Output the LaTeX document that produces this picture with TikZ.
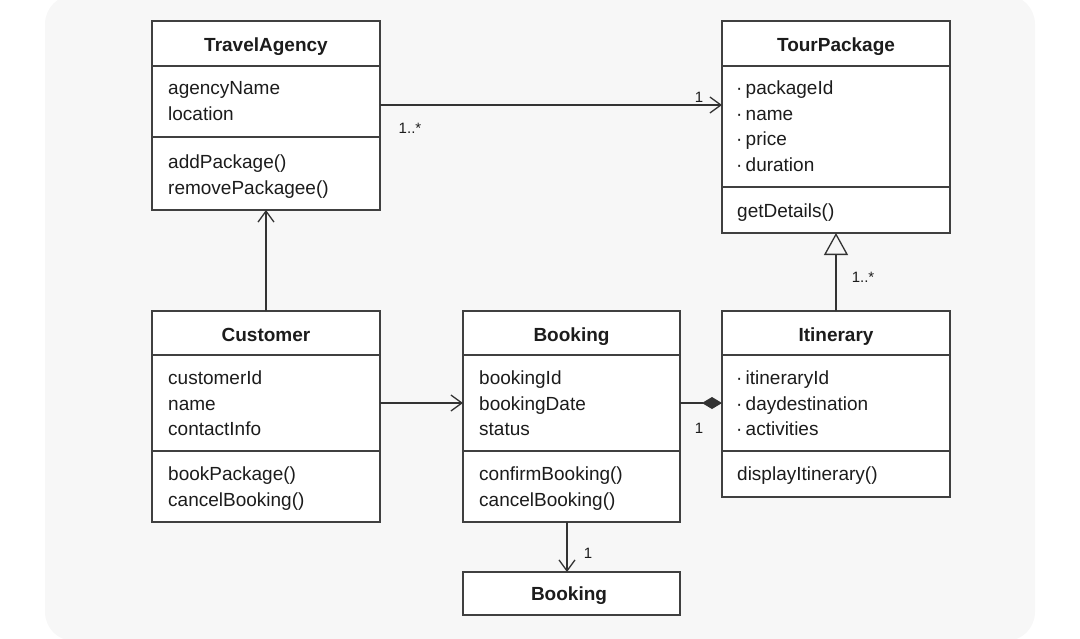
\documentclass[tikz,border=0pt]{standalone}
\usepackage{fontspec}
\setmainfont{Liberation Sans}
\usetikzlibrary{arrows.meta}
\definecolor{bgcol}{HTML}{F7F7F7}
\definecolor{boxline}{HTML}{404040}
\definecolor{txt}{HTML}{1C1C1C}
\definecolor{conncol}{HTML}{333333}
\begin{document}
\begin{tikzpicture}[x=1pt,y=-1pt,
  classbox/.style={draw=boxline, line width=1.8pt, fill=white, anchor=north west,
    inner sep=0pt, outer sep=0pt},
  divider/.style={draw=boxline, line width=1.8pt},
  title/.style={font=\fontsize{19}{23}\selectfont\bfseries, text=txt, anchor=base, inner sep=0pt},
  attr/.style={font=\fontsize{19}{23}\selectfont, text=txt, anchor=base west, inner sep=0pt},
  mult/.style={font=\fontsize{15}{18}\selectfont, text=txt, anchor=base, inner sep=0pt},
  conn/.style={draw=conncol, line width=1.3pt},
  openarrow/.style={-{Straight Barb[length=11pt,width=16pt,line width=1.3pt]}},
  genarrow/.style={-{Triangle[open,length=22pt,width=24pt,line width=1.3pt]}},
  comparrow/.style={-{Diamond[length=20pt,width=12pt]}}
]
\useasboundingbox (0,0) rectangle (1080,638);
\fill[bgcol, rounded corners=29pt] (45,-5) rectangle (1035,641);

% helper coordinates
\coordinate (r1) at (0,105);
\coordinate (r3) at (0,403);
\coordinate (c6) at (567,0);

% ---------- TravelAgency ----------
\node[classbox, minimum width=228pt, minimum height=189pt] (ta) at (152,21) {};
\draw[divider] (ta.west |- 0,66) -- (ta.east |- 0,66);
\draw[divider] (ta.west |- 0,137) -- (ta.east |- 0,137);
\node[title] (tat) at (266,51) {TravelAgency};
\node[attr] (ta1) at (168,94) {agencyName};
\node[attr] (ta2) at (168,120) {location};
\node[attr] (ta3) at (168,168) {addPackage()};
\node[attr] (ta4) at (168,194) {removePackagee()};

% ---------- TourPackage ----------
\node[classbox, minimum width=228pt, minimum height=212pt] (tp) at (722,21) {};
\draw[divider] (tp.west |- 0,66) -- (tp.east |- 0,66);
\draw[divider] (tp.west |- 0,187) -- (tp.east |- 0,187);
\node[title] (tpt) at (836,51) {TourPackage};
\node[attr] (tp1) at (736,94) {·\,packageId};
\node[attr] (tp2) at (736,120) {·\,name};
\node[attr] (tp3) at (736,145) {·\,price};
\node[attr] (tp4) at (736,171) {·\,duration};
\node[attr] (tp5) at (737,217) {getDetails()};

% ---------- Customer ----------
\node[classbox, minimum width=228pt, minimum height=211pt] (cu) at (152,311) {};
\draw[divider] (cu.west |- 0,355) -- (cu.east |- 0,355);
\draw[divider] (cu.west |- 0,451) -- (cu.east |- 0,451);
\node[title] (cut) at (266,341) {Customer};
\node[attr] (cu1) at (168,384) {customerId};
\node[attr] (cu2) at (168,410) {name};
\node[attr] (cu3) at (168,435) {contactInfo};
\node[attr] (cu4) at (168,480) {bookPackage()};
\node[attr] (cu5) at (168,506) {cancelBooking()};

% ---------- Booking ----------
\node[classbox, minimum width=217pt, minimum height=211pt] (bk) at (463,311) {};
\draw[divider] (bk.west |- 0,355) -- (bk.east |- 0,355);
\draw[divider] (bk.west |- 0,451) -- (bk.east |- 0,451);
\node[title] (bkt) at (571.5,341) {Booking};
\node[attr] (bk1) at (479,384) {bookingId};
\node[attr] (bk2) at (479,410) {bookingDate};
\node[attr] (bk3) at (479,435) {status};
\node[attr] (bk4) at (479,480) {confirmBooking()};
\node[attr] (bk5) at (479,506) {cancelBooking()};

% ---------- Itinerary ----------
\node[classbox, minimum width=228pt, minimum height=186pt] (it) at (722,311) {};
\draw[divider] (it.west |- 0,355) -- (it.east |- 0,355);
\draw[divider] (it.west |- 0,451) -- (it.east |- 0,451);
\node[title] (itt) at (836,341) {Itinerary};
\node[attr] (it1) at (736,384) {·\,itineraryId};
\node[attr] (it2) at (736,410) {·\,daydestination};
\node[attr] (it3) at (736,435) {·\,activities};
\node[attr] (it4) at (737,480) {displayItinerary()};

% ---------- Booking (bottom) ----------
\node[classbox, minimum width=217pt, minimum height=43pt] (bb) at (463,572) {};
\node[title] (bbt) at (569,600) {Booking};

% ---------- Connectors ----------
\draw[conn, openarrow] (ta.east |- r1) -- (tp.west |- r1);
\node[mult] (m1) at (410,133) {1..*};
\node[mult] (m2) at (699,102) {1};

\draw[conn, openarrow] (cu.north) -- (ta.south);

\draw[conn, openarrow] (cu.east |- r3) -- (bk.west |- r3);

\draw[conn, comparrow, fill=black] (bk.east |- r3) -- (it.west |- r3);
\node[mult] (m3) at (699,433) {1};

\draw[conn, genarrow] (it.north) -- (tp.south);
\node[mult] (m4) at (863,282) {1..*};

\draw[conn, openarrow] (bk.south -| c6) -- (bb.north -| c6);
\node[mult] (m5) at (588,558) {1};
\end{tikzpicture}
\end{document}
